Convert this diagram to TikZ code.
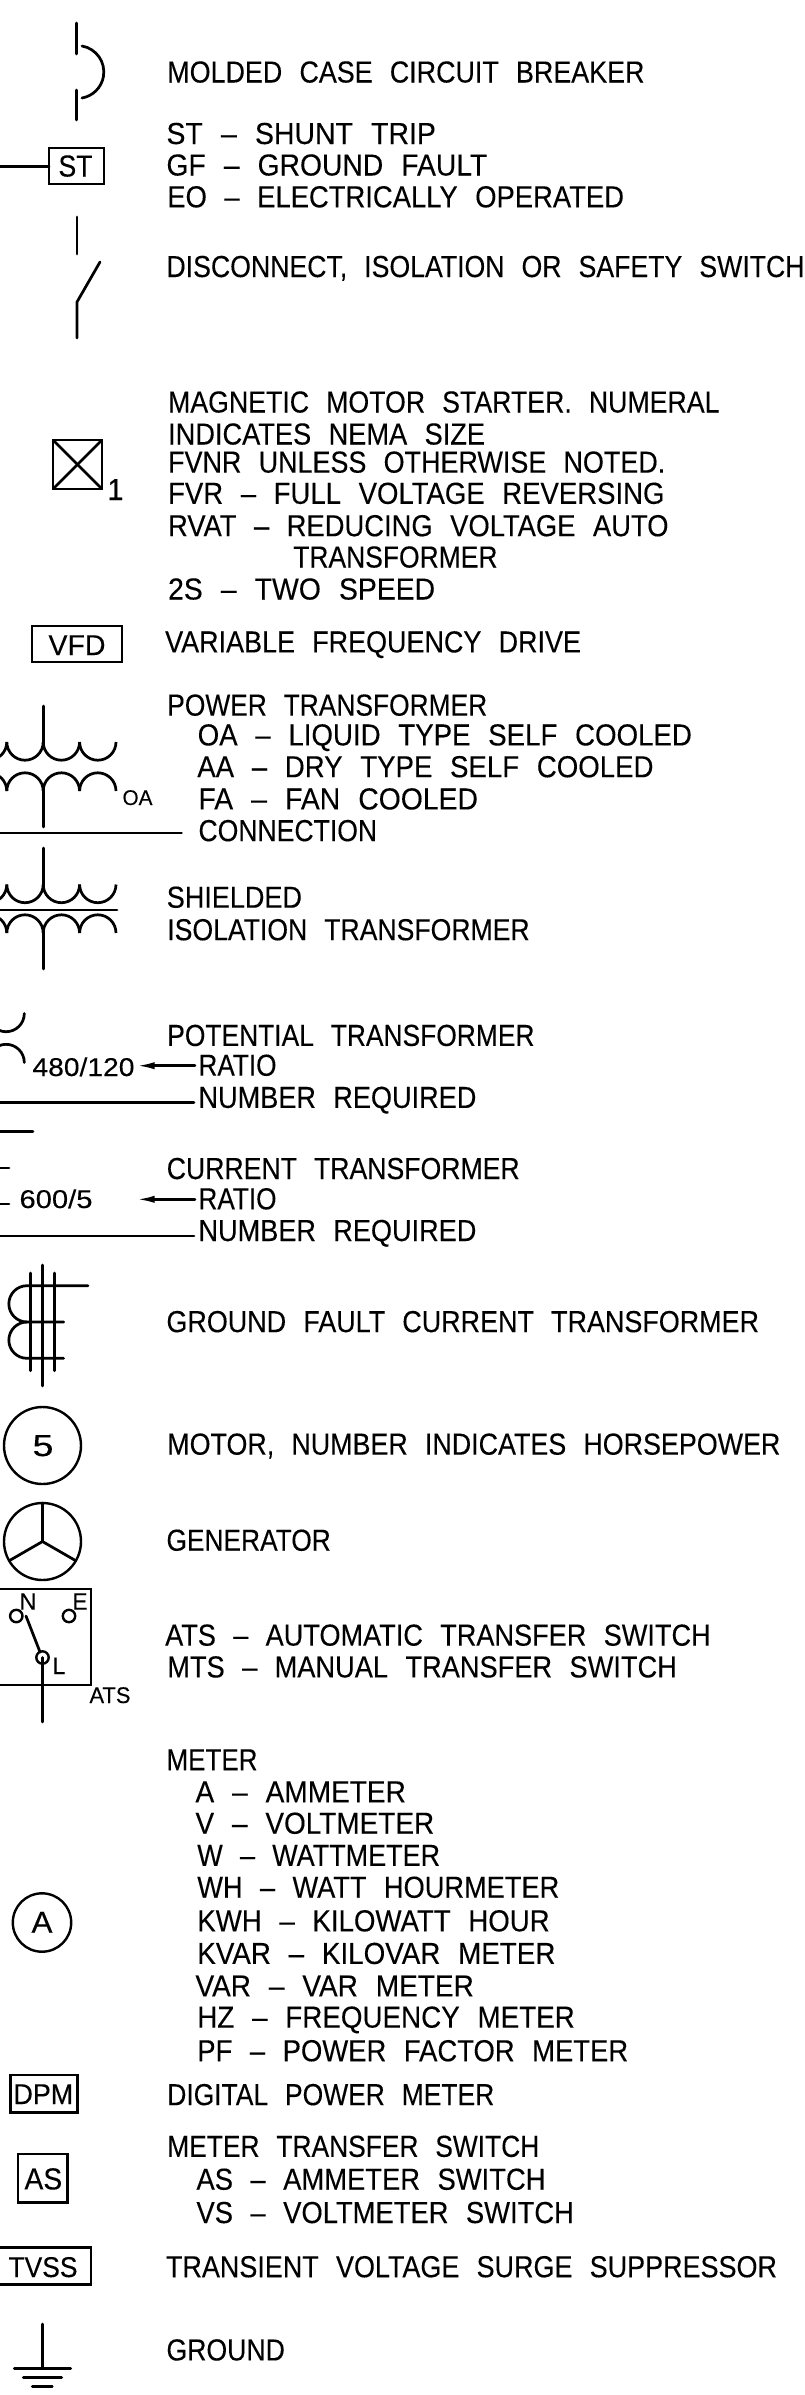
\documentclass[tikz,border=0pt]{standalone}
\usepackage{fontspec}
\usepackage{graphicx}
\usetikzlibrary{arrows.meta}
\setmainfont[WordSpace=2.3,FakeBold=0.2]{Liberation Sans}
\newsavebox\tbx
\newcounter{tn}
\newcommand\fitt[2]{\sbox\tbx{#2}\pgfmathsetmacro\rr{(#1)*0.75/\the\wd\tbx}\scalebox{\rr}[1]{#2}}
% [fontsize pt] x0 x1 baseline text (all in px)
\newcommand\T[5][22.8]{\stepcounter{tn}\node[txt,font=\fontsize{#1}{#1}\selectfont] (t\thetn) at (#2-1.5,#4) {\fitt{#3-#2+3}{#5}};}
\tikzset{
  txt/.style={anchor=base west,inner sep=0pt,outer sep=0pt},
  sym/.style={draw=black,line width=2.05pt,line cap=round,line join=miter},
  thin sym/.style={sym,line width=1.8pt}
}
\begin{document}
\begin{tikzpicture}[x=0.75pt,y=-0.75pt]
\useasboundingbox (0,0) rectangle (804,2395);
\clip (0,0) rectangle (804,2395);
% ---- texts
\T{168.8}{643}{82.5}{MOLDED CASE CIRCUIT BREAKER}
\T{168}{434.4}{144}{ST – SHUNT TRIP}
\T{168}{485.7}{175.5}{GF – GROUND FAULT}
\T{168.8}{622.5}{207.3}{EO – ELECTRICALLY OPERATED}
\T{168}{803}{277}{DISCONNECT, ISOLATION OR SAFETY SWITCH}
\T{169.6}{718}{412.5}{MAGNETIC MOTOR STARTER. NUMERAL}
\T{169.6}{483.6}{444.5}{INDICATES NEMA SIZE}
\T{169.6}{663.8}{472.6}{FVNR UNLESS OTHERWISE NOTED.}
\T{169.6}{663}{503.8}{FVR – FULL VOLTAGE REVERSING}
\T{169.6}{667}{536.2}{RVAT – REDUCING VOLTAGE AUTO}
\T{294.7}{496}{567.5}{TRANSFORMER}
\T{169.6}{433.6}{599.5}{2S – TWO SPEED}
\T{166.7}{579.5}{652.4}{VARIABLE FREQUENCY DRIVE}
\T{168.8}{485.7}{715.6}{POWER TRANSFORMER}
\T{199.2}{690.4}{745.4}{OA – LIQUID TYPE SELF COOLED}
\T{198.8}{652}{777.2}{AA – DRY TYPE SELF COOLED}
\T{200}{476.5}{809.4}{FA – FAN COOLED}
\T{200}{375.6}{841.1}{CONNECTION}
\T{168.3}{300.5}{907.7}{SHIELDED}
\T{168.8}{528.2}{940.2}{ISOLATION TRANSFORMER}
\T{168.8}{533}{1045.9}{POTENTIAL TRANSFORMER}
\T{200}{275}{1075.7}{RATIO}
\T{200}{474.9}{1107.9}{NUMBER REQUIRED}
\T{168.3}{518.2}{1179}{CURRENT TRANSFORMER}
\T{200}{275}{1209.3}{RATIO}
\T{200}{474.9}{1241}{NUMBER REQUIRED}
\T{168}{757.6}{1332.1}{GROUND FAULT CURRENT TRANSFORMER}
\T{168.8}{778.9}{1454.6}{MOTOR, NUMBER INDICATES HORSEPOWER}
\T{168}{329.3}{1550.7}{GENERATOR}
\T{166.7}{709.2}{1645.6}{ATS – AUTOMATIC TRANSFER SWITCH}
\T{168.8}{675.4}{1677.4}{MTS – MANUAL TRANSFER SWITCH}
\T{168}{256}{1770.2}{METER}
\T{197}{404.4}{1802.3}{A – AMMETER}
\T{197}{432.7}{1833.7}{V – VOLTMETER}
\T{198.8}{438.6}{1865.8}{W – WATTMETER}
\T{198.8}{557.8}{1897.7}{WH – WATT HOURMETER}
\T{198.8}{548.2}{1931.3}{KWH – KILOWATT HOUR}
\T{198.8}{554}{1963.9}{KVAR – KILOVAR METER}
\T{197}{472.4}{1996.4}{VAR – VAR METER}
\T{198.8}{573.3}{2027.6}{HZ – FREQUENCY METER}
\T{198.8}{626.7}{2061.2}{PF – POWER FACTOR METER}
\T{168.8}{492.8}{2105.1}{DIGITAL POWER METER}
\T{168.8}{537.8}{2156.8}{METER TRANSFER SWITCH}
\T{198}{544}{2189.7}{AS – AMMETER SWITCH}
\T{198}{572.4}{2223}{VS – VOLTMETER SWITCH}
\T{167.5}{775.5}{2277.2}{TRANSIENT VOLTAGE SURGE SUPPRESSOR}
\T{168}{283.4}{2360.4}{GROUND}
% ---- symbol texts
\T{60}{91}{176.5}{ST}
\T{109}{122}{500}{1}
\T[21.5]{50}{104}{655}{VFD}
\T[16]{124}{151}{805}{OA}
\T[19.3]{34}{133}{1076}{480/120}
\T[19.3]{21}{91}{1208}{600/5}
\T{34}{52}{1456}{5}
\T[17.8]{21}{35}{1609.7}{N}
\T[17.8]{74}{86}{1609.7}{E}
\T[17.8]{54}{64}{1674}{L}
\T[17]{91}{129}{1703}{ATS}
\T{33}{51}{1932.7}{A}
\T[21.5]{15}{71.7}{2104}{DPM}
\T{26}{60.7}{2189.4}{AS}
\T[21.5]{10}{76}{2277}{TVSS}
% ---- molded case breaker
\coordinate (cbA) at (76.5,23); \coordinate (cbB) at (76.5,54);
\coordinate (cbC) at (76.5,90); \coordinate (cbD) at (76.5,120);
\draw[sym] (cbA) -- (cbB);
\draw[sym] (cbC) -- (cbD);
\draw[sym] (82,46) arc[start angle=-80,end angle=80,radius=26.4];
% ---- shunt trip
\draw[sym] (49,148) rectangle (104,184);
\coordinate (stW) at (49,166.5); \coordinate (stL) at (0,166.5);
\draw[sym] (stL) -- (stW);
% ---- disconnect
\draw[sym] (77,217) -- (77,254);
\draw[sym] (100,262) -- (77,302) -- (77,338);
% ---- starter
\draw[sym] (53,440) rectangle (102,489);
\draw[sym] (53,440) -- (102,489);
\draw[sym] (102,440) -- (53,489);
% ---- VFD
\draw[sym] (32,626) rectangle (122,662);
% ---- power transformer
\draw[sym] (43.2,706) -- (43.2,746);
\foreach \s in {116,79.6,43.2,6.8}
  \draw[sym,line cap=butt] (\s,742) arc[start angle=0,end angle=180,radius=18.2];
\foreach \s in {116,79.6,43.2,6.8}
  \draw[sym,line cap=butt] (\s,791) arc[start angle=0,end angle=-180,radius=18.2];
\draw[sym] (43.2,785) -- (43.2,827);
\coordinate (cnE) at (181.5,833); \coordinate (cnW) at (0,833);
\draw[sym] (cnW) -- (cnE);
% ---- shielded
\draw[sym] (43.2,848) -- (43.2,888);
\foreach \s in {116,79.6,43.2,6.8}
  \draw[sym,line cap=butt] (\s,884.5) arc[start angle=0,end angle=180,radius=18.2];
\draw[sym] (0,910) -- (117,910);
\foreach \s in {116,79.6,43.2,6.8}
  \draw[sym,line cap=butt] (\s,933) arc[start angle=0,end angle=-180,radius=18.2];
\draw[sym] (43.2,927) -- (43.2,969);
% ---- potential transformer
\draw[sym] (24.3,1013.5) arc[start angle=0,end angle=180,radius=18.2];
\draw[sym] (24.3,1062.5) arc[start angle=0,end angle=-180,radius=18.2];
\coordinate (raA) at (195,1065.7); \coordinate (raB) at (136,1065.7);
\draw[sym,-{Latex[length=14pt,width=5.4pt]}] (raA) -- (raB);
\coordinate (nrA) at (194,1102.7); \coordinate (nrB) at (0,1102.7);
\draw[sym] (nrA) -- (nrB);
\draw[sym] (0,1131.7) -- (33,1131.7);
% ---- current transformer
\draw[sym] (0,1168) -- (9,1168);
\draw[sym] (0,1204) -- (9,1204);
\coordinate (rbA) at (195,1199.3); \coordinate (rbB) at (136,1199.3);
\draw[sym,-{Latex[length=14pt,width=5.4pt]}] (rbA) -- (rbB);
\coordinate (ncA) at (194,1236); \coordinate (ncB) at (0,1236);
\draw[sym] (ncA) -- (ncB);
% ---- ground fault CT
\draw[sym] (42.7,1265) -- (42.7,1386);
\draw[sym] (30.7,1273) -- (30.7,1370.7);
\draw[sym] (54.7,1273) -- (54.7,1370.7);
\draw[sym] (88,1285.7) -- (27,1285.7) arc[start angle=-90,end angle=-270,radius=18.15]
   -- (63.7,1322);
\draw[sym] (27,1322) arc[start angle=-90,end angle=-270,radius=18.15] -- (63.7,1358.3);
% ---- motor
\draw[thin sym] (42.5,1445.5) circle[radius=38.5];
% ---- generator
\draw[thin sym] (42.5,1541.5) circle[radius=38.5];
\draw[sym] (42.5,1503) -- (42.5,1541.5) -- (75.8,1560.7);
\draw[sym] (42.5,1541.5) -- (9.2,1560.7);
% ---- ATS
\draw[sym] (-5,1589) rectangle (91,1685);
\draw[thin sym] (16.3,1616) circle[radius=6.2];
\draw[thin sym] (69,1616) circle[radius=6.2];
\draw[thin sym] (42.5,1657.5) circle[radius=6.2];
\draw[sym] (26,1616) -- (40,1652);
\draw[sym] (42.5,1657.5) -- (42.5,1722);
% ---- meter
\draw[thin sym] (42,1922.5) circle[radius=29.2];
% ---- DPM / AS / TVSS boxes
\draw[sym] (10.7,2075) rectangle (77.3,2112.6);
\draw[sym] (18,2154) rectangle (67.3,2202.3);
\draw[sym] (-2,2247.4) rectangle (91,2284.2);
% ---- ground
\draw[sym] (42.7,2324) -- (42.7,2368.5);
\draw[sym] (14.3,2368.5) -- (70.7,2368.5);
\draw[sym] (23.3,2377.4) -- (61.7,2377.4);
\draw[sym] (32.3,2386.6) -- (52.3,2386.6);
\end{tikzpicture}
\end{document}
